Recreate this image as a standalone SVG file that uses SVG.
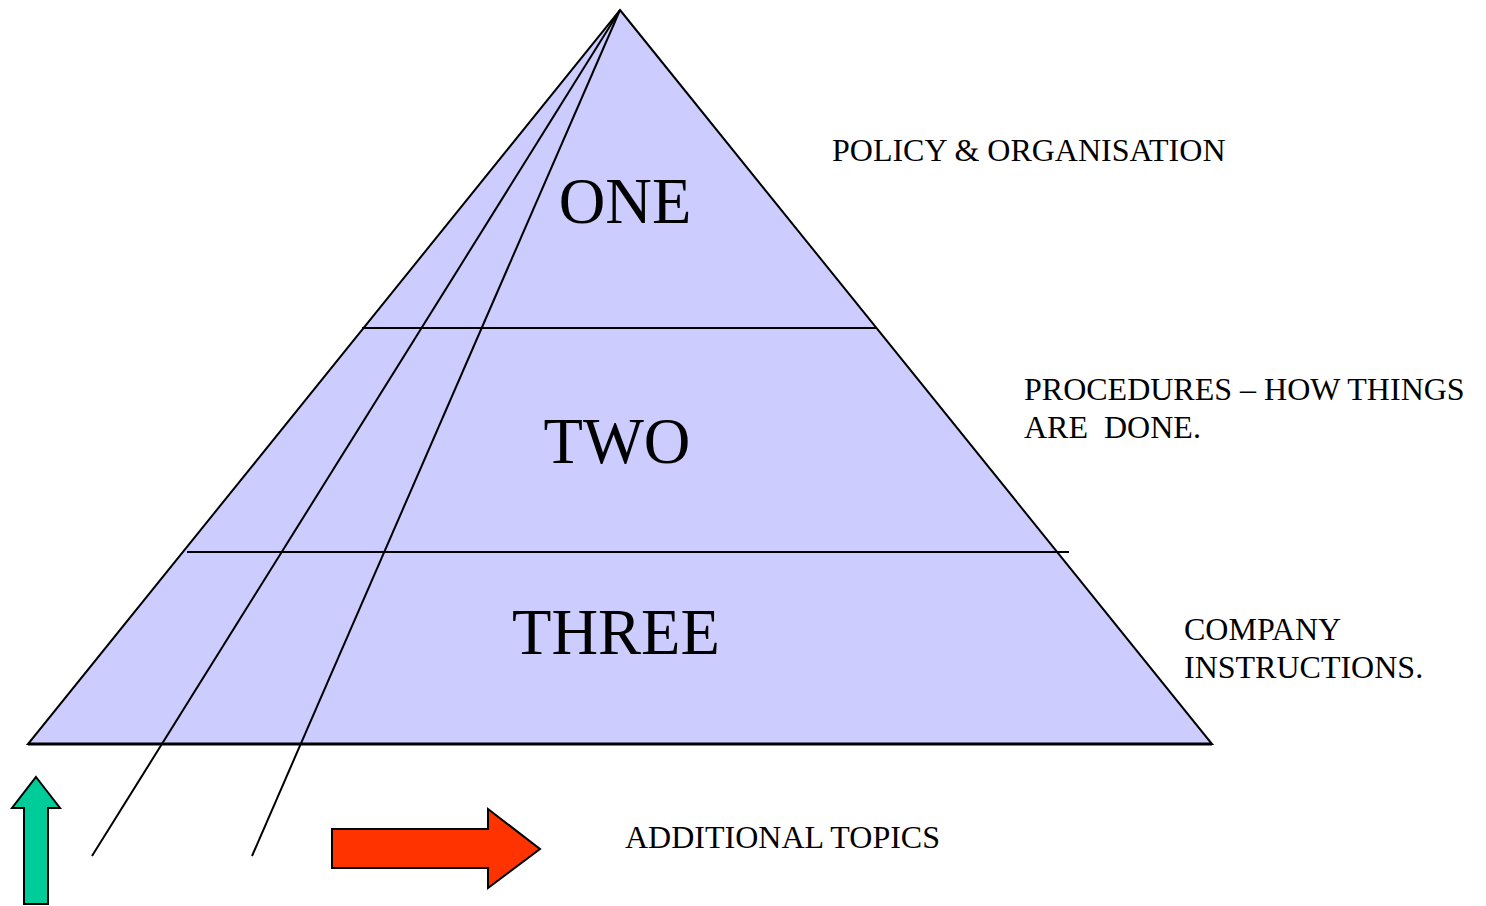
<svg xmlns="http://www.w3.org/2000/svg" width="1486" height="906" viewBox="0 0 1486 906">
<style>
.ln{stroke:#000;stroke-width:2;fill:none}
.big{font-family:"Liberation Serif",serif;font-size:64.5px;fill:#000;text-anchor:middle}
.lbl{font-family:"Liberation Serif",serif;font-size:32px;fill:#000;white-space:pre}
</style>
<rect width="1486" height="906" fill="#fff"/>
<g id="pyramid">
<polygon points="620,10 1212,744 28,744" fill="#ccccff" stroke="#000" stroke-width="2"/>
</g>
<g id="connectors">
<line class="ln" x1="362" y1="328" x2="877" y2="328"/>
<line class="ln" x1="187" y1="552" x2="1069" y2="552"/>
<line class="ln" x1="620" y1="10" x2="92" y2="856"/>
<line class="ln" x1="620" y1="10" x2="252" y2="856"/>
<line x1="28" y1="744" x2="1212" y2="744" stroke="#000" stroke-width="3"/>
</g>
<g id="one"><text class="big" x="625" y="223">ONE</text></g>
<g id="two"><text class="big" x="617" y="463">TWO</text></g>
<g id="three"><text class="big" x="616" y="654">THREE</text></g>
<g id="label-policy"><text class="lbl" x="832" y="161">POLICY &amp; ORGANISATION</text></g>
<g id="label-procedures"><text class="lbl" x="1024" y="400">PROCEDURES – HOW THINGS</text><text class="lbl" x="1024" y="438" xml:space="preserve">ARE  DONE.</text></g>
<g id="label-company"><text class="lbl" x="1184" y="640">COMPANY</text><text class="lbl" x="1184" y="678">INSTRUCTIONS.</text></g>
<g id="label-additional"><text class="lbl" x="625" y="848">ADDITIONAL TOPICS</text></g>
<g id="green-arrow"><polygon points="36,777 60,808 48,808 48,904 24,904 24,808 12,808" fill="#00cc99" stroke="#000" stroke-width="2"/></g>
<g id="red-arrow"><polygon points="332,829 488,829 488,809 540,849 488,888 488,868 332,868" fill="#ff3300" stroke="#000" stroke-width="2"/></g>
</svg>
